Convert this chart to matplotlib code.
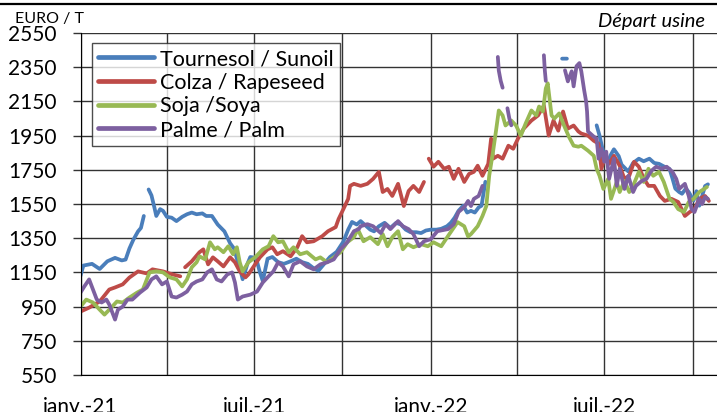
import numpy as np
import matplotlib
matplotlib.use("Agg")
import matplotlib.pyplot as plt
from matplotlib.lines import Line2D

nan = np.nan
start = np.datetime64("2021-01-01")

# days since 2021-01-01 / EUR per tonne (nan = gap)
sun_day = [0, 3, 12, 20, 28, 36, 43, 47, 51, 55, 60, 63, 66, 68, 71, 74, 77, 79, 83, 86,
           90, 95, 100, 106, 111, 116, 121, 127, 131, 137, 143, 150, 156, 160, 163, 166, 169, 174, 177, 183,
           187, 190, 195, 200, 206, 212, 219, 225, 231, 237, 244, 248, 254, 260, 267, 274, 279, 283, 288, 292,
           298, 302, 306, 311, 317, 323, 329, 334, 339, 344, 350, 355, 360, 365, 371, 376, 382, 386, 390, 394,
           399, 403, 407, 411, 415, 418, 422, 425, 502, 507, 510, 538, 541, 543, 546, 550, 553, 556, 561, 564,
           571, 576, 582, 587, 593, 598, 603, 608, 614, 617, 620, 624, 627, 631, 634, 639, 642, 645, 651, 654]
sun_val = [1130, 1190, 1200, 1170, 1215, 1235, 1220, 1225, 1290, 1340, 1390, 1410, 1480, nan, 1635, 1600, 1530, 1480, 1520, 1510,
           1475, 1470, 1450, 1475, 1490, 1500, 1490, 1495, 1480, 1480, 1430, 1390, 1320, 1290, 1230, 1180, 1110, 1200, 1240, 1235,
           1150, 1100, 1230, 1240, 1210, 1200, 1215, 1230, 1210, 1200, 1170, 1160, 1200, 1240, 1270, 1330, 1400, 1445, 1430, 1450,
           1420, 1400, 1390, 1420, 1440, 1410, 1440, 1430, 1400, 1385, 1385, 1380, 1395, 1400, 1400, 1405, 1420, 1440, 1470, 1510,
           1540, 1500, 1510, 1500, 1530, 1540, 1680, nan, 2400, 2400, nan, 2010, 1950, 1900, 1830, 1800, 1840, 1870, 1830, 1780,
           1740, 1790, 1815, 1800, 1815, 1790, 1785, 1770, 1755, 1700, 1640, 1620, 1610, 1640, 1620, 1570, 1625, 1540, 1655, 1665]

rape_day = [0, 9, 20, 30, 36, 44, 51, 60, 69, 75, 86, 96, 104, 107, 109, 116, 124, 128, 133, 138,
            143, 149, 156, 161, 166, 172, 175, 182, 187, 195, 200, 205, 211, 219, 226, 231, 236, 243, 252, 258,
            266, 269, 274, 279, 281, 285, 292, 299, 305, 311, 315, 320, 325, 331, 337, 342, 347, 353, 358, 361,
            363, 368, 373, 379, 384, 389, 394, 400, 405, 410, 414, 419, 425, 428, 430, 435, 440, 446, 451, 456,
            462, 470, 477, 483, 488, 493, 498, 503, 508, 514, 519, 522, 529, 535, 540, 543, 546, 551, 556, 562,
            567, 572, 577, 582, 587, 592, 598, 604, 609, 616, 623, 630, 635, 640, 645, 651, 655]
rape_val = [921, 944, 980, 1050, 1062, 1080, 1120, 1156, 1144, 1168, 1156, 1138, 1127, nan, 1180, 1215, 1268, 1285, 1197, 1238,
            1215, 1185, 1238, 1209, 1156, 1121, 1138, 1197, 1238, 1285, 1297, 1256, 1274, 1244, 1297, 1362, 1326, 1332, 1362, 1391,
            1415, 1462, 1520, 1580, 1656, 1668, 1656, 1668, 1697, 1738, 1620, 1638, 1597, 1668, 1538, 1626, 1656, 1620, 1679, nan,
            1815, 1768, 1797, 1756, 1768, 1697, 1756, 1679, 1726, 1738, 1774, 1715, 1785, 1932, 1815, 1832, 1815, 1891, 1873, 1932,
            1991, 2038, 2068, 2126, 1950, 2038, 1979, 2091, 1991, 2009, 1974, 1962, 1950, 1920, 1903, 1756, 1815, 1785, 1832, 1774,
            1697, 1715, 1797, 1768, 1700, 1656, 1656, 1597, 1568, 1580, 1562, 1480, 1503, 1520, 1580, 1597, 1568]

soy_day = [0, 6, 13, 20, 25, 30, 38, 44, 51, 59, 65, 72, 79, 86, 93, 100, 106, 111, 116, 121,
           124, 130, 135, 140, 143, 149, 154, 159, 163, 166, 169, 175, 182, 190, 196, 201, 206, 211, 217, 222,
           229, 236, 245, 250, 257, 264, 271, 278, 285, 289, 295, 302, 310, 315, 320, 325, 331, 336, 341, 347,
           355, 362, 368, 376, 383, 393, 400, 404, 407, 414, 419, 423, 426, 430, 433, 436, 440, 443, 449, 454,
           459, 464, 470, 475, 478, 482, 485, 487, 491, 494, 499, 504, 509, 514, 519, 522, 529, 535, 538, 541,
           545, 550, 553, 559, 562, 567, 572, 576, 582, 587, 592, 597, 603, 608, 614, 618, 623, 629, 634, 639,
           645, 650, 653]
soy_val = [950, 991, 974, 932, 903, 932, 980, 974, 1003, 1032, 1050, 1150, 1156, 1150, 1121, 1109, 1068, 1109, 1180, 1209,
           1244, 1226, 1326, 1285, 1297, 1268, 1303, 1256, 1297, 1209, 1156, 1209, 1238, 1285, 1303, 1362, 1326, 1332, 1268, 1297,
           1256, 1268, 1226, 1238, 1209, 1238, 1268, 1326, 1356, 1403, 1332, 1356, 1315, 1374, 1303, 1356, 1391, 1285, 1315, 1297,
           1315, 1303, 1326, 1303, 1362, 1444, 1420, 1360, 1374, 1420, 1480, 1538, 1715, 1856, 1974, 2097, 2068, 2009, 2038, 2009,
           1950, 2021, 2097, 2068, 2120, 2091, 2226, 2256, 2068, 2050, 2080, 2009, 1944, 1891, 1885, 1891, 1862, 1832, 1756, 1715,
           1638, 1697, 1580, 1679, 1620, 1685, 1620, 1656, 1738, 1679, 1756, 1715, 1738, 1679, 1580, 1562, 1520, 1503, 1562, 1580,
           1620, 1638, 1650]

palm_day = [0, 4, 9, 13, 17, 22, 27, 30, 36, 39, 44, 49, 54, 62, 69, 74, 79, 85, 90, 95,
            100, 106, 111, 116, 121, 127, 132, 137, 142, 147, 153, 158, 161, 164, 169, 177, 184, 190, 196, 201,
            206, 211, 217, 222, 229, 236, 243, 250, 257, 264, 271, 278, 285, 290, 292, 299, 305, 313, 318, 323,
            331, 336, 342, 347, 353, 358, 365, 372, 383, 389, 394, 400, 404, 407, 410, 415, 419, 425, 435, 436,
            438, 440, 442, 445, 447, 449, 451, 483, 484, 485, 487, 505, 508, 512, 514, 517, 520, 522, 525, 527,
            528, 529, 535, 538, 540, 543, 546, 548, 551, 556, 559, 562, 567, 571, 576, 579, 585, 590, 595, 600,
            606, 611, 617, 621, 624, 630, 634, 637, 640, 645, 648, 651, 654]
palm_val = [1032, 1068, 1109, 1050, 991, 974, 991, 962, 874, 932, 950, 991, 991, 1032, 1062, 1109, 1127, 1080, 1097, 1009,
            1003, 1020, 1038, 1080, 1097, 1109, 1150, 1168, 1109, 1097, 1138, 1150, 1091, 991, 1009, 1020, 1038, 1091, 1127, 1156,
            1209, 1185, 1127, 1197, 1215, 1185, 1168, 1197, 1209, 1226, 1285, 1326, 1391, 1403, 1420, 1432, 1420, 1380, 1432, 1403,
            1450, 1420, 1403, 1374, 1303, 1332, 1344, 1391, 1403, 1432, 1503, 1532, 1568, 1538, 1580, 1597, 1656, nan, 2410, 2330,
            2270, 2230, nan, 2110, 2050, 2010, nan, 2420, 2330, 2270, nan, 2332, 2267, 2326, 2238, 2356, 2374, 2326, 2215, 2150,
            2091, 1974, 1944, 1932, 1815, 1873, 1797, 1856, 1697, 1815, 1656, 1756, 1638, 1715, 1620, 1656, 1685, 1697, 1744, 1768,
            1756, 1768, 1738, 1697, 1638, 1668, 1597, 1520, 1503, 1580, 1550, 1591, 1580]

series = [
    ("Tournesol / Sunoil", sun_day, sun_val, "#4a7ebb"),
    ("Colza / Rapeseed", rape_day, rape_val, "#be4b48"),
    ("Soja /Soya", soy_day, soy_val, "#98b954"),
    ("Palme / Palm", palm_day, palm_val, "#7d60a0"),
]

title = "Comparaison des prix des huiles de soja, colza, tournesol et palme"
y_ticks = list(range(550, 2551, 200))
x_labels = {"2021-01-01": "janv.-21", "2021-07-01": "juil.-21",
            "2022-01-01": "janv.-22", "2022-07-01": "juil.-22"}
x_minor = ["2021-04-01", "2021-10-01", "2022-04-01", "2022-10-01"]

plt.rcParams["font.family"] = ["Lato", "DejaVu Sans"]

W, H = 717, 412
fig = plt.figure(figsize=(W / 100, H / 100), dpi=100)
ax_left, ax_right, ax_top, ax_bot = 80.5, 730, 33, 375
ax = fig.add_axes([ax_left / W, 1 - ax_bot / H, (ax_right - ax_left) / W, (ax_bot - ax_top) / H])

for name, d, v, c in series:
    x = start + np.array(d).astype("timedelta64[D]")
    ax.plot(x, v, color=c, lw=2.7, label=name, solid_capstyle="round", solid_joinstyle="round")

px_per_day = (692.5 - 80.5) / 638
ax.set_xlim(start, start + np.timedelta64(int(round((ax_right - ax_left) / px_per_day)), "D"))
ax.set_ylim(550, 2550)
ax.set_yticks(y_ticks)
ax.set_xticks([np.datetime64(k) for k in x_labels])
ax.set_xticklabels(list(x_labels.values()))
ax.set_xticks([np.datetime64(k) for k in x_minor], minor=True)

grid_c = "#333333"
ax.grid(True, which="both", color=grid_c, lw=1.0)
ax.set_axisbelow(True)
ax.tick_params(axis="y", length=6, width=1, color=grid_c, labelsize=15, pad=11)
ax.tick_params(axis="x", which="both", length=0, labelsize=15, pad=16)
for s in ["top", "right"]:
    ax.spines[s].set_visible(False)
ax.spines["left"].set_color("black")
ax.spines["bottom"].set_color("black")

leg = ax.legend(loc="upper left", bbox_to_anchor=(92 / W, 1 - 43 / H), bbox_transform=fig.transFigure,
                fontsize=15.5, frameon=True, fancybox=False, handlelength=2.6, handletextpad=0.3,
                borderpad=0.28, labelspacing=0.17, borderaxespad=0)
leg.get_frame().set_edgecolor("#202020")
leg.get_frame().set_linewidth(1.0)
for h in leg.get_lines():
    h.set_linewidth(3.4)

fig.text(15 / W, 1 - 23 / H, "EURO / T", fontsize=11.5, ha="left", va="baseline")
fig.text(705 / W, 1 - 27 / H, "Départ usine", fontsize=14.5, style="italic", ha="right", va="baseline")
fig.text(0.5, 1 + 3 / H, title, fontsize=14, ha="center", va="baseline")
fig.add_artist(Line2D([0, 1], [1 - 3.5 / H] * 2, color="black", lw=1.6, transform=fig.transFigure))

fig.savefig("out.png", dpi=100)
